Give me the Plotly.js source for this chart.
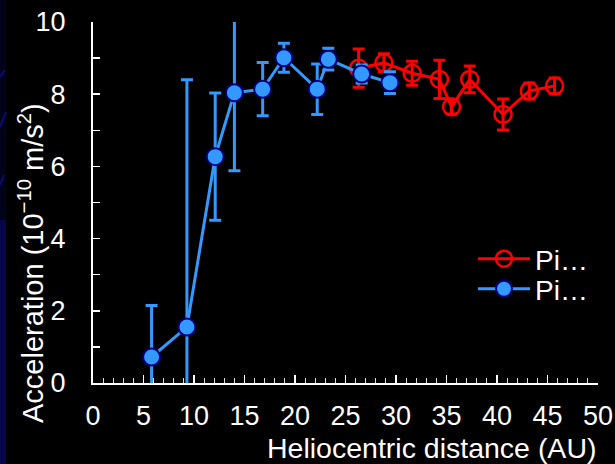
<!DOCTYPE html>
<html>
<head>
<meta charset="utf-8">
<script src="https://cdn.plot.ly/plotly-3.0.1.min.js"></script>
<style>
html,body{margin:0;padding:0;background:#000;}
#chart{width:615px;height:464px;}
</style>
</head>
<body>
<div id="chart"></div>
<script>
// Red series (open circles)
const redName = "Pi…";
const redX = [26.3, 28.8, 31.6, 34.3, 35.5, 37.3, 40.6, 43.2, 45.7];
const redY = [8.72, 8.87, 8.58, 8.41, 7.65, 8.41, 7.44, 8.09, 8.23];
const redErr = [0.53, 0.25, 0.33, 0.53, 0.2, 0.37, 0.43, 0.22, 0.22];

// Blue series (filled circles)
const blueName = "Pi…";
const blueX = [5.8, 9.3, 12.1, 14.0, 16.8, 18.9, 22.2, 23.3, 26.6, 29.4];
const blueY = [0.72, 1.55, 6.27, 8.04, 8.14, 9.01, 8.14, 8.97, 8.56, 8.32];
const blueErrPlus = [1.43, 6.85, 1.76, 2.1, 0.74, 0.4, 0.7, 0.3, 0.25, 0.3];
const blueErrMinus = [1.43, 6.85, 1.76, 2.16, 0.74, 0.4, 0.7, 0.3, 0.25, 0.3];

const xTickVals = [0, 5, 10, 15, 20, 25, 30, 35, 40, 45, 50];
const yTickVals = [0, 2, 4, 6, 8, 10];

const xTitle = "Heliocentric distance (AU)";
const yTitle = "Acceleration (10<sup>−10</sup> m/s<sup>2</sup>)";

const RED = "#ff0000";
const BLUE = "#3399ff";
const NAVY = "#000080";
const FONT = "Arial, 'Liberation Sans', sans-serif";

const traces = [
  {
    type: "scatter", mode: "lines+markers", name: redName, legend: "legend",
    x: redX, y: redY,
    error_y: {type: "data", array: redErr, visible: true, color: RED, thickness: 3, width: 6},
    line: {color: RED, width: 3},
    marker: {symbol: "circle-open", size: 17, color: RED, line: {color: RED, width: 2.5}}
  },
  {
    type: "scatter", mode: "lines+markers", name: blueName, legend: "legend2",
    x: blueX, y: blueY,
    error_y: {type: "data", symmetric: false, array: blueErrPlus, arrayminus: blueErrMinus, visible: true, color: BLUE, thickness: 3, width: 6},
    line: {color: BLUE, width: 3},
    marker: {symbol: "circle", size: 17, color: BLUE, line: {color: NAVY, width: 2}}
  }
];

function px2x(p) { return (p - 93) / 505; }
function px2y(p) { return (383 - p) / 361; }

const legendCommon = {
  xanchor: "left", yanchor: "middle",
  bgcolor: "rgba(0,0,0,0)", font: {family: FONT, size: 28, color: "#fff"},
  itemwidth: 52, borderwidth: 0
};

const layout = {
  width: 615, height: 464,
  paper_bgcolor: "#000", plot_bgcolor: "#000",
  margin: {l: 93, r: 17, t: 22, b: 81},
  font: {family: FONT, color: "#fff", size: 27},
  showlegend: true,
  legend: Object.assign({x: px2x(473), y: px2y(259)}, legendCommon),
  legend2: Object.assign({x: px2x(473), y: px2y(289)}, legendCommon),
  xaxis: {
    range: [0, 50], tickvals: xTickVals, ticks: "inside", ticklen: 8, tickwidth: 1.5, tickcolor: "#fff",
    showline: true, linecolor: "#fff", linewidth: 2, showgrid: false, zeroline: false,
    minor: {dtick: 1, ticks: "inside", ticklen: 5, tickwidth: 1, tickcolor: "#ddd", showgrid: false},
    tickfont: {family: FONT, size: 27, color: "#fff"}, ticklabelstandoff: 8
  },
  yaxis: {
    range: [0, 10], tickvals: yTickVals, ticks: "inside", ticklen: 7, tickwidth: 1.5, tickcolor: "#fff",
    showline: true, linecolor: "#fff", linewidth: 2, showgrid: false, zeroline: false,
    minor: {dtick: 1, ticks: "inside", ticklen: 7, tickwidth: 1.5, tickcolor: "#fff", showgrid: false},
    tickfont: {family: FONT, size: 27, color: "#fff"}, ticklabelstandoff: 20
  },
  annotations: [
    {text: xTitle, xref: "paper", yref: "paper", x: 1, y: 0, xanchor: "right", yanchor: "top",
     yshift: -47, showarrow: false, font: {family: FONT, size: 28.5, color: "#fff"}},
    {text: yTitle, xref: "paper", yref: "paper", x: px2x(31), y: 0, xanchor: "center", yanchor: "bottom",
     yshift: -42, textangle: -90, showarrow: false, font: {family: FONT, size: 29, color: "#fff"}}
  ],
  shapes: [
    {type: "rect", xref: "paper", yref: "paper", x0: px2x(0), x1: px2x(6), y0: px2y(464), y1: px2y(220),
     fillcolor: "#06064a", line: {width: 0}, layer: "below"},
    {type: "rect", xref: "paper", yref: "paper", x0: px2x(0), x1: px2x(6), y0: px2y(220), y1: px2y(0),
     fillcolor: "#02021a", line: {width: 0}, layer: "below"},
    {type: "line", xref: "paper", yref: "paper", x0: px2x(0), x1: px2x(5), y0: px2y(77), y1: px2y(70),
     line: {color: "#0c0c70", width: 2}, layer: "below"},
    {type: "line", xref: "paper", yref: "paper", x0: px2x(0), x1: px2x(6), y0: px2y(127), y1: px2y(112),
     line: {color: "#0c0c70", width: 2}, layer: "below"},
    {type: "line", xref: "paper", yref: "paper", x0: px2x(0), x1: px2x(4), y0: px2y(185), y1: px2y(175),
     line: {color: "#0c0c70", width: 2}, layer: "below"}
  ]
};

Plotly.newPlot("chart", traces, layout, {displayModeBar: false, staticPlot: true});
</script>
</body>
</html>
